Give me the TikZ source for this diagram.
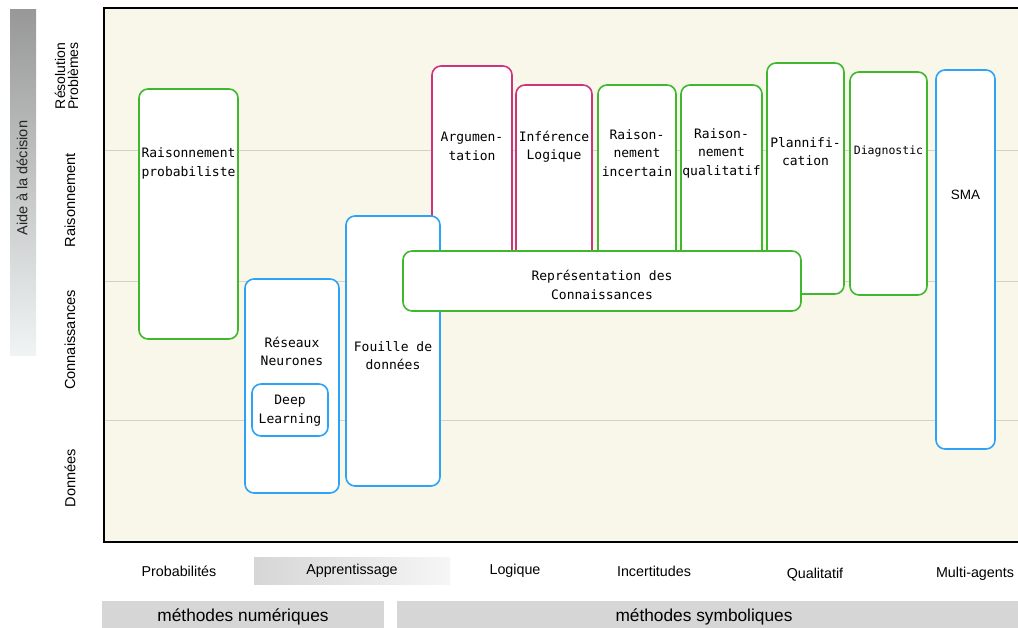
\documentclass[tikz,border=0pt]{standalone}
\usepackage{fontspec}
\setsansfont{Liberation Sans}
\setmonofont{DejaVu Sans Mono}
\usepackage{tikz}
\definecolor{boxgreen}{RGB}{64,184,46}
\definecolor{boxblue}{RGB}{44,163,247}
\definecolor{boxpink}{RGB}{206,52,122}
\definecolor{paper}{RGB}{249,247,234}
\definecolor{gridline}{RGB}{212,210,198}
\definecolor{barfill}{RGB}{214,214,214}
\definecolor{fadetop}{RGB}{152,152,152}
\definecolor{fadebottom}{RGB}{240,244,244}
\definecolor{learnleft}{RGB}{214,214,214}
\definecolor{learnright}{RGB}{246,246,246}
\tikzstyle{greenbox}=[rectangle,rounded corners=9pt,draw=boxgreen,fill=white,line width=1.6pt,inner sep=0pt]
\tikzstyle{bluebox}=[rectangle,rounded corners=9pt,draw=boxblue,fill=white,line width=1.6pt,inner sep=0pt]
\tikzstyle{pinkbox}=[rectangle,rounded corners=9pt,draw=boxpink,fill=white,line width=1.6pt,inner sep=0pt]
\tikzstyle{boxtext}=[align=center,inner sep=0pt,font=\ttfamily\fontsize{13}{18.5}\selectfont]
\tikzstyle{rowlabel}=[rotate=90,align=center,inner sep=0pt,font=\sffamily\fontsize{14.6}{14.6}\selectfont]
\tikzstyle{collabel}=[inner sep=0pt,font=\sffamily\fontsize{14.3}{16}\selectfont]
\tikzstyle{methodbar}=[rectangle,fill=barfill,inner sep=0pt]
\tikzstyle{methodtext}=[inner sep=0pt,font=\sffamily\fontsize{17.3}{20}\selectfont]

\begin{document}
\begin{tikzpicture}[x=1pt,y=-1pt]
	\useasboundingbox (0,0) rectangle (1018,628);
	\node at (567,275) [rectangle,fill=paper,draw=black,line width=1.8pt,minimum width=926,minimum height=534] (frame) {};
	\foreach \y in {151,282,420}
		\draw[gridline,line width=1pt] (105,\y) -- (1018,\y);
	
	\node at (23,183) [rectangle,top color=fadetop,bottom color=fadebottom,minimum width=26,minimum height=346] (aidebar) {};
	\node at (22,178) [rowlabel,text=black!85] (aide) {Aide à la décision};
	\node at (66.5,76) [rowlabel,font=\sffamily\fontsize{14}{13}\selectfont] (resol) {Résolution\\Problèmes};
	\node at (70,200) [rowlabel] (raison) {Raisonnement};
	\node at (70,340) [rowlabel] (connais) {Connaissances};
	\node at (70,478) [rowlabel] (donnees) {Données};
	
	\node at (188.5,214) [greenbox,minimum width=99,minimum height=250] (proba) {};
	\node at (188.5,163.5) [boxtext] (probatext) {Raisonnement\\probabiliste};
	\node at (292,386) [bluebox,minimum width=94,minimum height=214] (reseaux) {};
	\node at (292,351.5) [boxtext] (reseauxtext) {Réseaux\\Neurones};
	\node at (290,410) [bluebox,minimum width=76,minimum height=52] (deep) {};
	\node at (290,410.5) [boxtext] (deeptext) {Deep\\Learning};
	\node at (472,183) [pinkbox,minimum width=80,minimum height=234] (argu) {};
	\node at (472,146.5) [boxtext] (argutext) {Argumen-\\tation};
	\node at (554,192.5) [pinkbox,minimum width=76,minimum height=215] (infer) {};
	\node at (554,146.5) [boxtext] (infertext) {Inférence\\Logique};
	\node at (637,192.5) [greenbox,minimum width=78,minimum height=215] (incert) {};
	\node at (637,153) [boxtext] (incerttext) {Raison-\\nement\\incertain};
	\node at (721.5,192.5) [greenbox,minimum width=81,minimum height=215] (qualit) {};
	\node at (721.5,153) [boxtext] (qualittext) {Raison-\\nement\\qualitatif};
	\node at (393,351) [bluebox,minimum width=94,minimum height=270] (fouille) {};
	\node at (393,355.5) [boxtext] (fouilletext) {Fouille de\\données};
	\node at (805.5,178.5) [greenbox,minimum width=77,minimum height=231] (planif) {};
	\node at (805.5,151.5) [boxtext] (planiftext) {Plannifi-\\cation};
	\node at (888.5,183.5) [greenbox,minimum width=77,minimum height=223] (diag) {};
	\node at (888.5,151) [boxtext,font=\ttfamily\fontsize{11.5}{14}\selectfont] (diagtext) {Diagnostic};
	\node at (965.5,259.5) [bluebox,minimum width=59,minimum height=379] (sma) {};
	\node at (965.5,195) [boxtext,font=\sffamily\fontsize{13.5}{15}\selectfont] (smatext) {SMA};
	\node at (602,281) [greenbox,minimum width=398,minimum height=60] (repr) {};
	\node at (602,285) [boxtext] (reprtext) {Représentation des\\Connaissances};
	
	\node at (352,570.5) [rectangle,left color=learnleft,right color=learnright,minimum width=196,minimum height=27] (learnbar) {};
	\node at (179,571) [collabel] (probab) {Probabilités};
	\node at (352,571) [collabel] (apprent) {Apprentissage};
	\node at (515,571) [collabel] (logique) {Logique};
	\node at (654,571) [collabel] (incertitudes) {Incertitudes};
	\node at (815,575) [collabel] (qualitatif) {Qualitatif};
	\node at (975,574) [collabel] (multi) {Multi-agents};
	
	\node at (243,614.5) [methodbar,minimum width=282,minimum height=27] (numeriques) {};
	\node at (243,617) [methodtext] (numtext) {méthodes numériques};
	\node at (707.5,614.5) [methodbar,minimum width=621,minimum height=27] (symboliques) {};
	\node at (704,617) [methodtext] (symbtext) {méthodes symboliques};
\end{tikzpicture}
\end{document}
